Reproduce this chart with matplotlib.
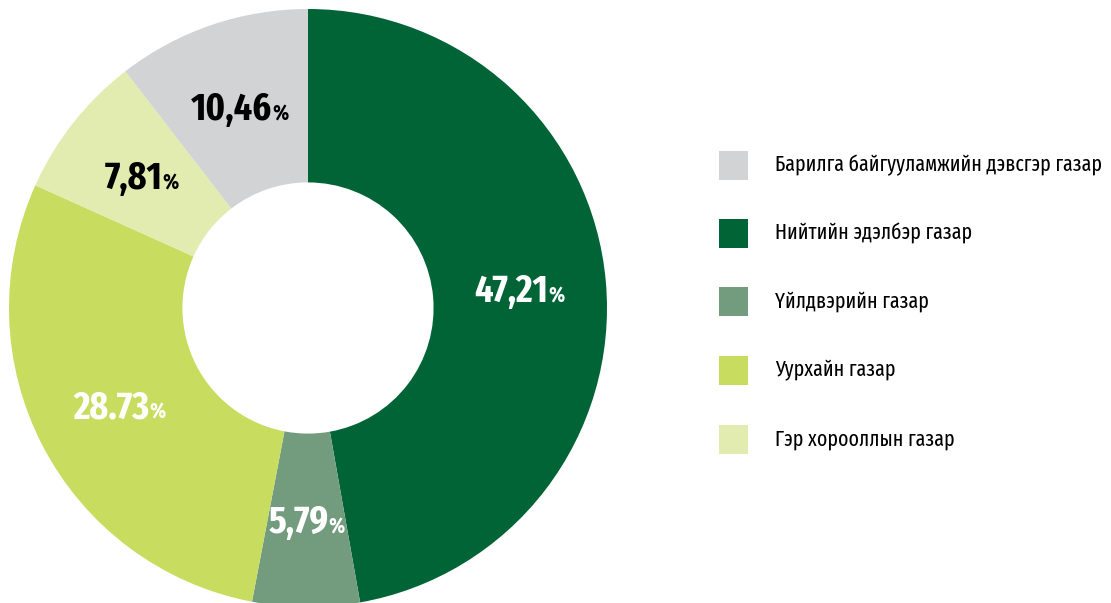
import matplotlib.pyplot as plt
from matplotlib.patches import Rectangle
import numpy as np

plt.rcParams["font.family"] = ["Fira Sans Extra Condensed", "DejaVu Sans"]

# Data (clockwise from top)
labels = ["Нийтийн эдэлбэр газар", "Үйлдвэрийн газар", "Уурхайн газар",
          "Гэр хорооллын газар", "Барилга байгууламжийн дэвсгэр газар"]
values = [47.21, 5.79, 28.73, 7.81, 10.46]
value_text = ["47,21", "5,79", "28.73", "7,81", "10,46"]
colors = ["#006437", "#739c7f", "#c8dc5f", "#e2ecb0", "#d1d3d4"]
text_colors = ["white", "white", "white", "black", "black"]

# legend order as in the picture
legend_order = [4, 0, 1, 2, 3]

W, H = 1111, 603
fig = plt.figure(figsize=(W / 100, H / 100), dpi=100)

# donut axes: centre (308, 308) px from top-left, radius 299 px
cx, cy, r = 308, 308, 299
ax = fig.add_axes([(cx - r) / W, (H - cy - r) / H, 2 * r / W, 2 * r / H])

wedges, _ = ax.pie(values, colors=colors, startangle=90, counterclock=False,
                   radius=1, wedgeprops=dict(width=0.58, linewidth=0))
ax.set_xlim(-1, 1)
ax.set_ylim(-1, 1)
ax.axis("off")

# value labels: big number + small %, centred together on the wedge middle
renderer = fig.canvas.get_renderer()
px = 1 / r  # data units per pixel
for w, txt, tc in zip(wedges, value_text, text_colors):
    mid = np.deg2rad((w.theta1 + w.theta2) / 2)
    x, y = 0.71 * np.cos(mid), 0.71 * np.sin(mid)
    num = ax.text(x, y - 13 * px, txt, ha="right", va="baseline", fontsize=28,
                  fontweight="bold", color=tc)
    pct = ax.text(x, y - 13 * px, "%", ha="left", va="baseline", fontsize=16,
                  fontweight="bold", color=tc)
    wn = num.get_window_extent(renderer).width
    wp = pct.get_window_extent(renderer).width
    shift = (wn - wp) / 2 * px
    num.set_x(x + shift)
    pct.set_x(x + shift)

# legend
box = 29
row_y = [165, 233, 301, 370, 439]
for yy, i in zip(row_y, legend_order):
    fig.add_artist(Rectangle((719 / W, (H - yy - box / 2) / H), box / W, box / H,
                             transform=fig.transFigure, facecolor=colors[i],
                             edgecolor="none"))
    fig.text(775 / W, (H - yy) / H, labels[i], ha="left", va="center",
             fontsize=15.5, color="black")

fig.savefig("out.png", dpi=100)
